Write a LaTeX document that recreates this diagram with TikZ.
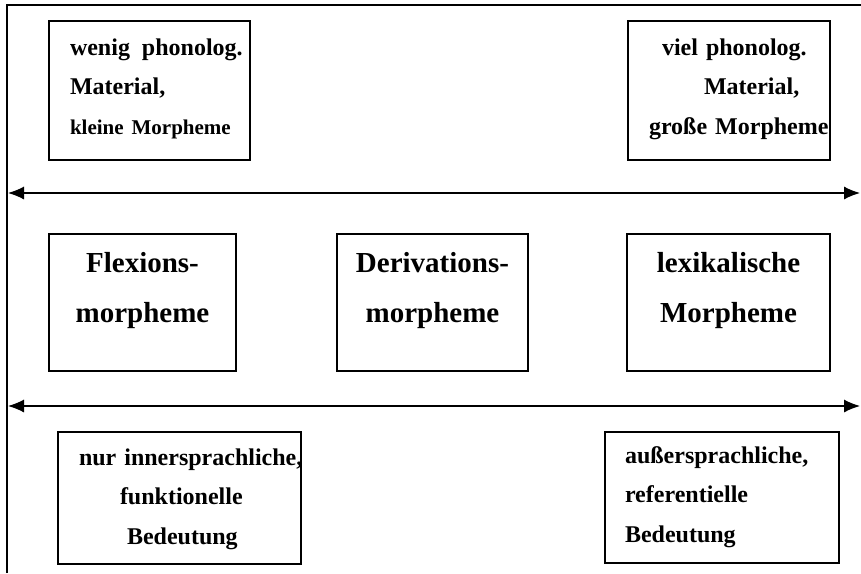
\documentclass[tikz,border=0pt]{standalone}
\usepackage{fontspec}
\setmainfont{Liberation Serif}
\usetikzlibrary{positioning,arrows.meta}
\hyphenpenalty=10000
\exhyphenpenalty=10000

\tikzset{
  kasten/.style={draw,line width=1.3pt,inner sep=0pt,align=left,text height=17pt,
    font=\fontsize{24}{39.5}\selectfont\bfseries},
  mitte/.style={kasten,align=center,text height=20pt,text depth=81pt,
    font=\fontsize{29}{50}\selectfont\bfseries},
}

\begin{document}
\begin{tikzpicture}[x=1pt,y=-1pt,>={Latex[length=16pt,width=13pt]}]
           \useasboundingbox (0,0) rectangle (861,573);
           \draw[line width=2pt] (7,573)--(7,5)--(861,5); %Rahmen

           \node[kasten,minimum width=201pt,minimum height=139pt,text width=159pt,text depth=88pt] (wenig) at (149.5,90.5)
             {wenig~\kern4pt phonolog.\\Material,\\{\fontsize{21}{39.5}\selectfont kleine~Morpheme}}; %oben links
           \node[kasten,minimum width=202pt,minimum height=139pt,text width=160pt,text depth=88pt] (viel) at (729,90.5)
             {\hspace*{13pt}viel~phonolog.\\\hspace*{55pt}Material,\\große~Morpheme}; %oben rechts

           \coordinate (pfeilAl) at (8,193);
           \coordinate (pfeilAr) at (860,193);
           \draw[<->,line width=1.2pt] (pfeilAl)--(pfeilAr); %Pfeil oben

           \node[mitte,minimum width=187pt,minimum height=137pt,text width=187pt] (flex) at (142.5,302.5) {Flexions-\\morpheme};
           \node[mitte,minimum width=191pt,minimum height=137pt,text width=191pt] (deriv) at (432.5,302.5) {Derivations-\\morpheme};
           \node[mitte,minimum width=203pt,minimum height=137pt,text width=203pt] (lex) at (728.5,302.5) {lexikalische\\Morpheme};

           \coordinate (pfeilBl) at (8,406);
           \coordinate (pfeilBr) at (860,406);
           \draw[<->,line width=1.2pt] (pfeilBl)--(pfeilBr); %Pfeil unten

           \node[kasten,minimum width=243pt,minimum height=132pt,text width=201pt,text depth=83pt] (inner) at (179.5,498)
             {nur~innersprachliche,\\\hspace*{41pt}funktionelle\\\hspace*{48pt}Bedeutung}; %unten links
           \node[kasten,minimum width=234pt,minimum height=131pt,text width=194pt,text depth=86pt] (ausser) at (722,497.5)
             {außersprachliche,\\referentielle\\Bedeutung}; %unten rechts
\end{tikzpicture}
\end{document}
